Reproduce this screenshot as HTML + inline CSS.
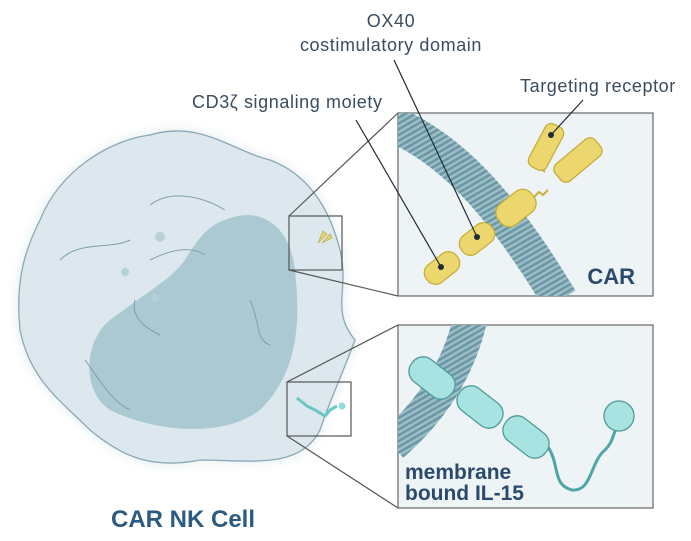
<!DOCTYPE html>
<html><head><meta charset="utf-8"><style>
html,body{margin:0;padding:0;background:#fff;}
svg{display:block;}
text{font-family:"Liberation Sans",sans-serif;}
</style></head><body>
<svg width="691" height="541" viewBox="0 0 691 541" xmlns="http://www.w3.org/2000/svg">
<defs>
<filter id="blur"><feGaussianBlur stdDeviation="6"/></filter>
<pattern id="stripe" width="5" height="5" patternUnits="userSpaceOnUse" patternTransform="rotate(60)">
<rect width="5" height="5" fill="#9dbec8"/><rect width="2.5" height="5" fill="#6a97a4"/></pattern>
</defs>
<!-- cell -->
<path d="M40,220 C60,170 110,140 150,135 C200,120 230,150 270,160 C310,175 330,210 340,250 C350,290 330,310 355,340 C340,380 330,400 320,430 C300,470 250,460 200,460 C150,470 120,455 90,430 C60,400 30,380 20,330 C15,280 25,250 40,220 Z" fill="#dde9ee" filter="url(#blur)"/>
<path d="M40,220 C60,170 110,140 150,135 C200,120 230,150 270,160 C310,175 330,210 340,250 C350,290 330,310 355,340 C340,380 330,400 320,430 C300,470 250,460 200,460 C150,470 120,455 90,430 C60,400 30,380 20,330 C15,280 25,250 40,220 Z" fill="#dce8ed" stroke="#8aa9b4" stroke-width="1.3"/>
<path d="M225,220 C260,205 290,225 295,270 C300,320 300,370 260,410 C220,440 150,430 110,410 C80,390 85,340 110,320 C150,290 170,280 185,260 C200,235 210,225 225,220 Z" fill="#abc9d2"/>
<g fill="none" stroke="#7f9eab" stroke-width="1"><path d="M60,260 C80,240 110,250 130,240"/><path d="M150,205 C170,190 200,195 225,210"/><path d="M150,260 C170,250 190,245 205,255"/><path d="M135,300 C130,320 150,330 160,335"/><path d="M85,360 C100,380 110,400 130,410"/><path d="M250,300 C260,320 255,340 270,345"/></g>
<circle cx="160" cy="237" r="5" fill="#b7cfd7"/><circle cx="125" cy="272" r="4" fill="#b7cfd7"/><circle cx="155" cy="298" r="4" fill="#b7cfd7"/>
<!-- small boxes -->
<g fill="none" stroke="#555" stroke-width="1.2">
<rect x="289" y="216" width="53" height="54"/><rect x="287" y="382" width="64" height="54"/>
<line x1="289" y1="216" x2="398" y2="113"/><line x1="289" y1="270" x2="398" y2="296"/>
<line x1="287" y1="382" x2="398" y2="325"/><line x1="287" y1="436" x2="398" y2="508"/>
</g>
<path d="M318,243 l5,-12 l4,3 z M322,243 l8,-9 l2,4 z" fill="#e8d56a" stroke="#b8a23a" stroke-width="0.6"/>
<path d="M297,398 l10,8 l8,4 l10,6 l5,-6 l7,-4" fill="none" stroke="#6cc6c4" stroke-width="3"/>
<circle cx="342" cy="406" r="3.5" fill="#8fdcd8"/>
<!-- big boxes -->
<rect x="398" y="113" width="255" height="183" fill="#eef3f6" stroke="#666" stroke-width="1.2"/>
<rect x="398" y="325" width="255" height="183" fill="#eef3f6" stroke="#666" stroke-width="1.2"/>
<clipPath id="c1"><rect x="398" y="113" width="255" height="183"/></clipPath>
<clipPath id="c2"><rect x="398" y="325" width="255" height="183"/></clipPath>
<g clip-path="url(#c1)"><path d="M395,125 C450,150 500,200 560,300" fill="none" stroke="url(#stripe)" stroke-width="36"/></g>
<path d="M525,198 l5,-4 l4,3 l5,-5 l4,3 l5,-5" fill="none" stroke="#c7ae3a" stroke-width="2"/>
<path d="M542,150 C535,160 540,168 545,172" fill="none" stroke="#c7ae3a" stroke-width="2"/>
<g fill="#ecd76e" stroke="#c7ae3a" stroke-width="1.3">
<rect x="-19" y="-11" width="38" height="22" rx="10" transform="translate(442,268) rotate(-38)"/>
<rect x="-19" y="-11" width="38" height="22" rx="10" transform="translate(477,239) rotate(-38)"/>
<rect x="-21" y="-13" width="42" height="26" rx="11" transform="translate(516,208) rotate(-38)"/>
<rect x="-24" y="-10" width="48" height="20" rx="7" transform="translate(546,147) rotate(-62)"/>
<rect x="-26" y="-11" width="52" height="22" rx="7" transform="translate(578,160) rotate(-40)"/>
</g>
<text x="635" y="284" font-size="22" font-weight="bold" fill="#2b4a6b" text-anchor="end">CAR</text>
<!-- IL-15 -->
<g clip-path="url(#c2)"><path d="M470,320 C458,370 432,410 392,445" fill="none" stroke="url(#stripe)" stroke-width="34"/></g>
<path d="M548,447 C560,465 552,485 572,490 C592,492 590,462 605,450 C615,440 612,432 618,428" fill="none" stroke="#4fa6a6" stroke-width="3"/>
<g fill="#a7e3e0" stroke="#4f9b9b" stroke-width="1.3">
<rect x="-25" y="-14" width="50" height="28" rx="13" transform="translate(432,378) rotate(38)"/>
<rect x="-25" y="-14" width="50" height="28" rx="13" transform="translate(480,407) rotate(38)"/>
<rect x="-25" y="-14" width="50" height="28" rx="13" transform="translate(526,437) rotate(38)"/>
<circle cx="619" cy="416" r="15"/>
</g>
<text x="405" y="479" font-size="21" font-weight="bold" fill="#2b4a6b">membrane</text>
<text x="405" y="500" font-size="21" font-weight="bold" fill="#2b4a6b">bound IL-15</text>
<!-- labels -->
<g fill="#3a4d5e" font-size="18" letter-spacing="0.6">
<text x="391" y="27" text-anchor="middle">OX40</text>
<text x="391" y="51" text-anchor="middle">costimulatory domain</text>
<text x="192" y="108">CD3ζ signaling moiety</text>
<text x="520" y="92">Targeting receptor</text>
</g>
<g stroke="#1f2d3a" stroke-width="1.2">
<line x1="356" y1="120" x2="441" y2="267"/><line x1="394" y1="60" x2="477" y2="237"/><line x1="583" y1="100" x2="551" y2="135"/>
</g>
<g fill="#1f2d3a"><circle cx="441" cy="267" r="3"/><circle cx="477" cy="237" r="3"/><circle cx="551" cy="135" r="3"/></g>
<text x="183" y="527" font-size="24" font-weight="bold" fill="#2b5b80" text-anchor="middle">CAR NK Cell</text>
</svg>
</body></html>
